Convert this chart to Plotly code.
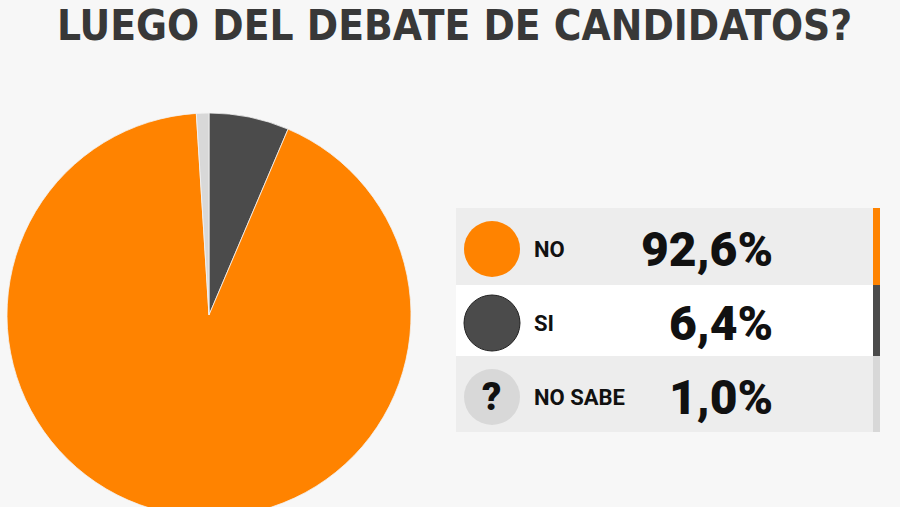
import plotly.graph_objects as go

# ---- data ----
title_text = "LUEGO DEL DEBATE DE CANDIDATOS?"
pie_labels = ["SI", "NO", "NO SABE"]
pie_values = [6.4, 92.6, 1.0]
pie_colors = ["#4b4b4b", "#ff8300", "#d8d8d8"]

table_labels = ["NO", "SI", "NO SABE"]
table_values = [92.6, 6.4, 1.0]
table_colors = ["#ff8300", "#4b4b4b", "#d8d8d8"]
row_fills = ["#ededed", "#ffffff", "#ededed"]

W, H = 900, 520


def px(x):
    return x / W


def py(y):
    return 1 - y / H


fig = go.Figure()

fig.add_trace(go.Pie(
    labels=pie_labels,
    values=pie_values,
    sort=False,
    direction="clockwise",
    rotation=0,
    marker=dict(colors=pie_colors, line=dict(color="#f4f4f4", width=0.8)),
    textinfo="none",
    hoverinfo="label+percent",
    showlegend=False,
    domain=dict(x=[px(7), px(411)], y=[py(517), py(113)]),
))

shapes = []
annotations = []

# title
annotations.append(dict(
    x=px(454), y=py(25), xref="paper", yref="paper",
    text="<b>" + title_text + "</b>", showarrow=False,
    xanchor="center", yanchor="middle",
    font=dict(family="Liberation Sans Narrow, DejaVu Sans Condensed, Roboto", size=42, color="#383838"),
))

row_tops = [208, 285, 356]
row_bots = [285, 356, 432]
centers = [249, 323, 397]
for i, (lab, val, col, fill) in enumerate(zip(table_labels, table_values, table_colors, row_fills)):
    t, b, c = row_tops[i], row_bots[i], centers[i]
    shapes.append(dict(type="rect", xref="paper", yref="paper",
                       x0=px(456), x1=px(873), y0=py(b), y1=py(t),
                       fillcolor=fill, line=dict(width=0), layer="below"))
    shapes.append(dict(type="rect", xref="paper", yref="paper",
                       x0=px(873), x1=px(880), y0=py(b), y1=py(t),
                       fillcolor=col, line=dict(width=0), layer="below"))
    r = 28
    shapes.append(dict(type="circle", xref="paper", yref="paper",
                       x0=px(492 - r), x1=px(492 + r), y0=py(c + r), y1=py(c - r),
                       fillcolor=col,
                       line=dict(color="#222222" if i == 1 else col, width=1 if i == 1 else 0)))
    if lab == "NO SABE":
        annotations.append(dict(x=px(492), y=py(c), xref="paper", yref="paper",
                                text="?", showarrow=False,
                                xanchor="center", yanchor="middle",
                                font=dict(family="Roboto", size=38, weight=900, color="#111111")))
    annotations.append(dict(x=px(532), y=py(c), xref="paper", yref="paper",
                            text="<b>" + lab + "</b>", showarrow=False,
                            xanchor="left", yanchor="middle",
                            font=dict(family="Roboto", size=22, color="#111111")))
    annotations.append(dict(x=px(775), y=py(c), xref="paper", yref="paper",
                            text=f"{val:.1f}".replace(".", ",") + "%",
                            showarrow=False, xanchor="right", yanchor="middle",
                            font=dict(family="Roboto", size=48, weight=900, color="#111111")))

fig.update_layout(
    width=W, height=H,
    margin=dict(l=0, r=0, t=0, b=0),
    paper_bgcolor="#f7f7f7",
    plot_bgcolor="#f7f7f7",
    shapes=shapes,
    annotations=annotations,
)

fig.write_html("out.html",
               config={"displayModeBar": False},
               post_script="document.body.style.margin='0';document.body.style.overflow='hidden';")
